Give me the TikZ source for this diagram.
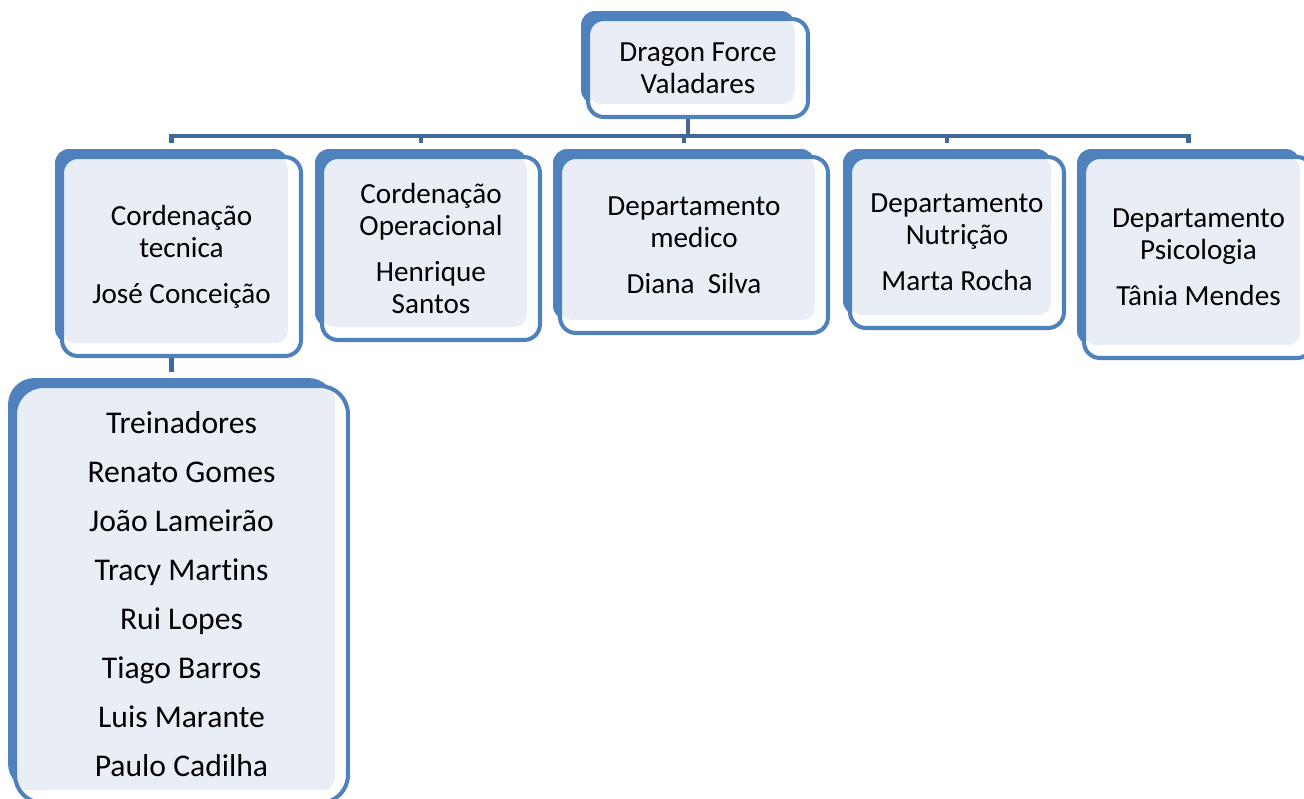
\documentclass[tikz,border=0pt]{standalone}
\usepackage{fontspec}
\setmainfont[Ligatures=CommonOff]{Carlito}
\usetikzlibrary{positioning}

\definecolor{accent}{RGB}{79,129,189}
\definecolor{linkblue}{RGB}{64,104,153}
\definecolor{lite}{RGB}{233,238,246}

\pgfdeclarelayer{links}
\pgfdeclarelayer{background}
\pgfsetlayers{links,background,main}

\begin{document}
\begin{tikzpicture}[x=0.02cm,y=-0.02cm]
	\tikzset{
		card/.style={
				draw=accent, line width=2.3pt, fill=white,
				rounded corners=9pt, inner sep=0pt, outer sep=0pt,
				align=center, font=\fontsize{16.6pt}{18.2pt}\selectfont,
				path picture={\fill[lite, rounded corners=7pt]
						(path picture bounding box.north west) rectangle
						([shift={(-13,-13)}]path picture bounding box.south east);},
			},
		backcard/.style={fill=accent, rounded corners=8pt, inner sep=0pt, outer sep=0pt},
		link/.style={draw=linkblue, line width=2.5pt, shorten >=3.4pt},
	}
	\useasboundingbox (0,0) rectangle (1304,798);
	% front cards
	\node[card, minimum width=4.40cm, minimum height=1.96cm] at (698,68) (dragon) {Dragon Force\\Valadares};
	\node[card, minimum width=4.78cm, minimum height=3.98cm] at (181.5,256.5) (tecnica) {Cordenação\\tecnica\\[8pt]José Conceição};
	\node[card, minimum width=4.36cm, minimum height=3.66cm] at (431,248.5) (operacional) {Cordenação\\Operacional\\[8pt]Henrique\\Santos};
	\node[card, minimum width=5.36cm, minimum height=3.52cm] at (694,245) (medico) {Departamento\\medico\\[8pt]Diana\ \ Silva};
	\node[card, minimum width=4.28cm, minimum height=3.42cm] at (957,242.5) (nutricao) {Departamento\\Nutrição\\[8pt]Marta Rocha};
	\node[card, minimum width=4.58cm, minimum height=4.02cm] at (1198.5,257.5) (psicologia) {Departamento\\Psicologia\\[8pt]Tânia Mendes};
	\node[card, rounded corners=16pt, minimum width=6.66cm, minimum height=8.34cm,
		font=\fontsize{18pt}{27.9pt}\selectfont] at (181.5,594.5) (treinadores)
		{Treinadores\\Renato Gomes\\João Lameirão\\Tracy Martins\\Rui Lopes\\Tiago Barros\\Luis Marante\\Paulo Cadilha};
	% blue backs
	\begin{pgfonlayer}{background}
		\foreach \n/\w/\h in {dragon/4.28/1.86, tecnica/4.66/3.88, operacional/4.24/3.56,
				medico/5.24/3.42, nutricao/4.16/3.32, psicologia/4.46/3.92}
		\node[backcard, minimum width=\w cm, minimum height=\h cm] at ([shift={(-10,-10.5)}]\n.center) (\n-b) {};
		\node[backcard, rounded corners=15pt, minimum width=6.54cm, minimum height=8.24cm]
		at ([shift={(-10,-10.5)}]treinadores.center) (treinadores-b) {};
	\end{pgfonlayer}
	% connectors
	\begin{pgfonlayer}{links}
		\coordinate[yshift=-18.2pt] (bus) at (dragon-b.south);
		\foreach \c in {tecnica,operacional,medico,nutricao,psicologia}
		\draw[link] (dragon-b.south) -- (bus) -| (\c-b.north);
		\draw[link] (tecnica-b.south) -- (treinadores-b.north);
	\end{pgfonlayer}
\end{tikzpicture}
\end{document}
